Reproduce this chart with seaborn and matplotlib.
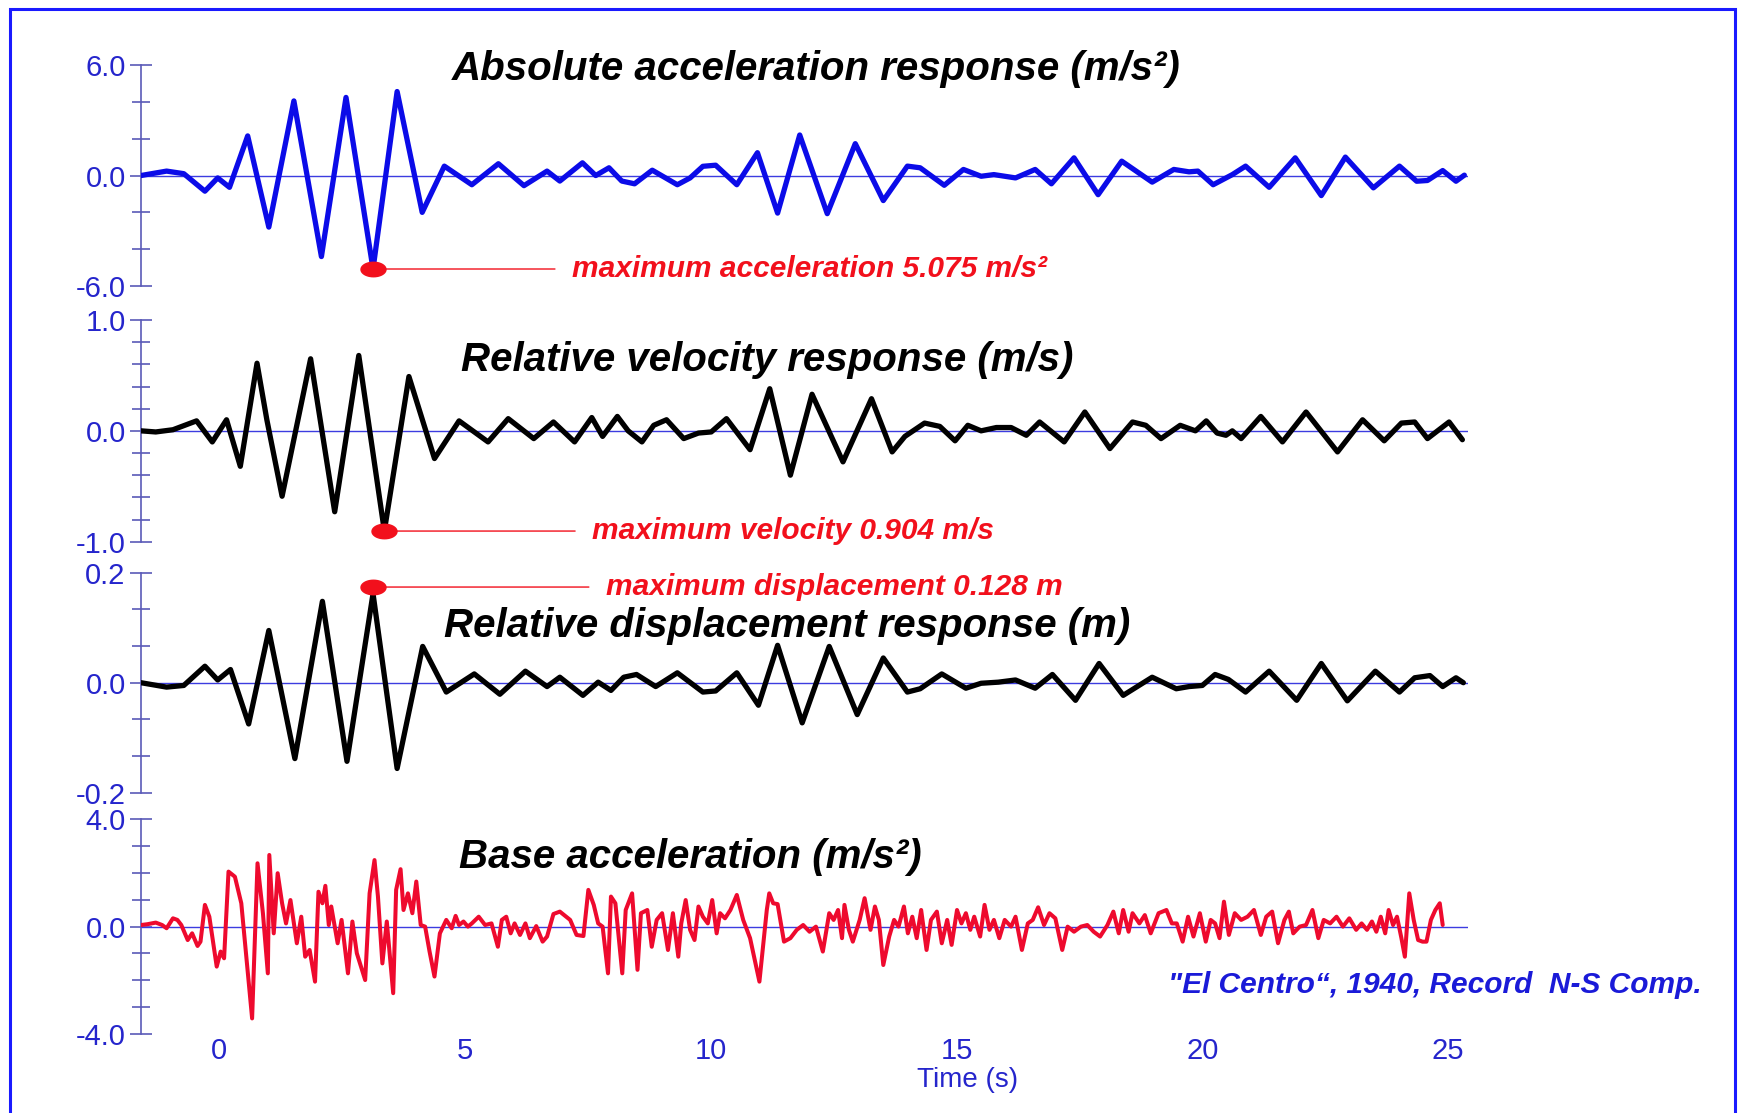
import numpy as np
import matplotlib
matplotlib.use("Agg")
import matplotlib.pyplot as plt
import seaborn as sns
from matplotlib.path import Path
from matplotlib.patches import Rectangle
from matplotlib.ticker import FixedLocator

# ---- values (time in s) ----
# absolute acceleration response (m/s2)
acc_t = [-1.59, -1.07, -0.72, -0.29, -0.03, 0.21, 0.58, 1.01, 1.52, 2.08,
         2.58, 3.13, 3.62, 4.13, 4.58, 5.14, 5.68, 6.20, 6.67, 6.93,
         7.39, 7.66, 7.93, 8.19, 8.45, 8.81, 9.32, 9.58, 9.84, 10.10,
         10.53, 10.95, 11.36, 11.81, 12.37, 12.94, 13.51, 14.00, 14.26, 14.75,
         15.14, 15.50, 15.76, 16.20, 16.60, 16.93, 17.39, 17.88, 18.36, 18.98,
         19.42, 19.73, 19.91, 20.22, 20.61, 20.88, 21.36, 21.89, 22.42, 22.91,
         23.48, 24.01, 24.36, 24.58, 24.89, 25.16, 25.33]
acc_v = [0.0, 0.24, 0.10, -0.85, -0.13, -0.64, 2.15, -2.80, 4.05, -4.40,
         4.24, -5.075, 4.56, -2.00, 0.51, -0.50, 0.64, -0.55, 0.24, -0.30,
         0.69, 0.0, 0.42, -0.30, -0.45, 0.29, -0.50, -0.13, 0.50, 0.56,
         -0.50, 1.24, -2.04, 2.20, -2.07, 1.73, -1.36, 0.51, 0.42, -0.53,
         0.33, -0.04, 0.05, -0.13, 0.33, -0.45, 0.96, -1.04, 0.78, -0.36,
         0.33, 0.20, 0.24, -0.50, 0.05, 0.51, -0.64, 0.96, -1.09, 1.00,
         -0.67, 0.51, -0.31, -0.27, 0.27, -0.31, 0.02]

# relative velocity response (m/s)
vel_t = [-1.59, -1.29, -0.94, -0.46, -0.14, 0.15, 0.43, 0.77, 0.97, 1.28,
         1.86, 2.35, 2.84, 3.36, 3.86, 4.38, 4.88, 5.47, 5.88, 6.40,
         6.80, 7.23, 7.58, 7.80, 8.10, 8.32, 8.60, 8.84, 9.10, 9.45,
         9.75, 10.01, 10.32, 10.80, 11.20, 11.62, 12.06, 12.69, 13.27, 13.69,
         13.95, 14.35, 14.66, 14.97, 15.23, 15.50, 15.81, 16.11, 16.42, 16.69,
         17.19, 17.61, 18.12, 18.58, 18.85, 19.16, 19.55, 19.86, 20.08, 20.30,
         20.48, 20.61, 20.79, 21.19, 21.63, 22.11, 22.75, 23.26, 23.70, 24.05,
         24.32, 24.58, 25.02, 25.29]
vel_v = [0.0, -0.01, 0.01, 0.09, -0.10, 0.10, -0.32, 0.61, 0.10, -0.59,
         0.65, -0.73, 0.68, -0.904, 0.49, -0.25, 0.09, -0.10, 0.11, -0.07,
         0.08, -0.10, 0.12, -0.05, 0.13, 0.0, -0.10, 0.05, 0.10, -0.07,
         -0.02, -0.01, 0.11, -0.17, 0.38, -0.40, 0.33, -0.28, 0.29, -0.19,
         -0.05, 0.07, 0.04, -0.09, 0.05, 0.0, 0.03, 0.03, -0.04, 0.08,
         -0.10, 0.17, -0.16, 0.08, 0.05, -0.07, 0.05, 0.0, 0.09, -0.02,
         -0.04, 0.0, -0.07, 0.13, -0.10, 0.17, -0.19, 0.10, -0.09, 0.07,
         0.08, -0.07, 0.08, -0.08]

# relative displacement response (m)
disp_t = [-1.59, -1.07, -0.72, -0.29, -0.03, 0.23, 0.60, 1.01, 1.54, 2.10,
          2.60, 3.13, 3.62, 4.14, 4.62, 5.19, 5.71, 6.23, 6.67, 6.93,
          7.40, 7.71, 7.97, 8.23, 8.49, 8.88, 9.32, 9.84, 10.10, 10.53,
          10.97, 11.36, 11.86, 12.41, 12.98, 13.51, 14.00, 14.26, 14.70, 15.19,
          15.50, 15.85, 16.20, 16.60, 16.95, 17.42, 17.90, 18.39, 18.98, 19.47,
          19.73, 20.00, 20.26, 20.53, 20.88, 21.36, 21.92, 22.42, 22.95, 23.52,
          24.01, 24.32, 24.63, 24.89, 25.16, 25.31]
disp_v = [0.0, -0.008, -0.005, 0.030, 0.005, 0.024, -0.075, 0.095, -0.138, 0.148,
          -0.143, 0.162, -0.156, 0.066, -0.017, 0.016, -0.021, 0.021, -0.007, 0.010,
          -0.023, 0.001, -0.014, 0.010, 0.015, -0.007, 0.018, -0.017, -0.015, 0.018,
          -0.041, 0.068, -0.073, 0.066, -0.058, 0.045, -0.017, -0.011, 0.016, -0.010,
          -0.001, 0.001, 0.005, -0.010, 0.015, -0.032, 0.035, -0.023, 0.010, -0.011,
          -0.007, -0.005, 0.015, 0.006, -0.017, 0.021, -0.032, 0.035, -0.033, 0.021,
          -0.017, 0.009, 0.013, -0.007, 0.009, 0.0]

# base acceleration, El Centro N-S (m/s2)
base_t = [-1.59, -1.46, -1.29, -1.16, -1.07, -0.94, -0.85, -0.77, -0.64, -0.55,
          -0.44, -0.38, -0.29, -0.20, -0.05, 0.03, 0.10, 0.19, 0.32, 0.45,
          0.67, 0.78, 0.89, 0.99, 1.02, 1.11, 1.19, 1.28, 1.36, 1.45,
          1.58, 1.67, 1.75, 1.84, 1.95, 2.02, 2.10, 2.16, 2.23, 2.28,
          2.41, 2.49, 2.62, 2.71, 2.80, 2.97, 3.06, 3.16, 3.23, 3.32,
          3.41, 3.54, 3.60, 3.69, 3.75, 3.84, 3.93, 4.01, 4.10, 4.19,
          4.28, 4.38, 4.49, 4.62, 4.73, 4.81, 4.88, 4.97, 5.06, 5.14,
          5.28, 5.41, 5.54, 5.67, 5.75, 5.84, 5.93, 6.01, 6.12, 6.23,
          6.32, 6.45, 6.58, 6.67, 6.80, 6.93, 7.06, 7.14, 7.27, 7.41,
          7.51, 7.62, 7.71, 7.80, 7.91, 7.97, 8.06, 8.20, 8.27, 8.40,
          8.51, 8.58, 8.71, 8.80, 8.90, 9.01, 9.13, 9.23, 9.34, 9.40,
          9.49, 9.58, 9.67, 9.75, 9.84, 9.94, 10.03, 10.12, 10.19, 10.29,
          10.40, 10.53, 10.66, 10.80, 10.88, 10.99, 11.14, 11.19, 11.27, 11.36,
          11.49, 11.62,
          11.75, 11.88, 12.01, 12.14, 12.28, 12.41, 12.50, 12.59, 12.67, 12.72,
          12.81, 12.89, 13.03, 13.13, 13.25, 13.34, 13.42, 13.51, 13.63, 13.73,
          13.82, 13.93, 14.01, 14.10, 14.19, 14.28, 14.39, 14.48, 14.60, 14.70,
          14.81, 14.90, 15.01, 15.10, 15.19, 15.28, 15.36, 15.48, 15.57, 15.67,
          15.76, 15.87, 15.98, 16.11, 16.20, 16.33, 16.45, 16.55, 16.66, 16.78,
          16.89, 17.01, 17.15, 17.26, 17.39, 17.53, 17.66, 17.79, 17.92, 18.07,
          18.19, 18.30, 18.39, 18.50, 18.58, 18.72, 18.83, 18.95, 19.11, 19.27,
          19.38, 19.48, 19.60, 19.71, 19.82, 19.95, 20.07, 20.17, 20.26, 20.35,
          20.44, 20.54, 20.66, 20.79, 20.92, 21.05, 21.19, 21.30, 21.42, 21.54,
          21.67, 21.76, 21.85, 21.98, 22.11, 22.24, 22.36, 22.47, 22.60, 22.73,
          22.86, 22.99, 23.13, 23.24, 23.35, 23.45, 23.54, 23.63, 23.72, 23.79,
          23.88, 23.96, 24.05, 24.12, 24.21, 24.30, 24.39, 24.48, 24.56, 24.65,
          24.74, 24.83, 24.89]
base_v = [0.06, 0.09, 0.15, 0.06, -0.06, 0.31, 0.25, 0.06, -0.50, -0.25,
          -0.72, -0.56, 0.81, 0.37, -1.49, -0.93, -1.18, 2.05, 1.86, 0.87,
          -3.42, 2.36, 0.50, -1.74, 2.67, -0.25, 1.99, 0.87, 0.12, 0.99,
          -0.62, 0.37, -1.12, -0.87, -2.05, 1.30, 0.87, 1.52, 0.06, 0.75,
          -0.62, 0.25, -1.74, 0.19, -0.99, -1.99, 1.24, 2.48, 1.12, -1.37,
          0.19, -2.48, 1.37, 2.14, 0.62, 1.24, 0.50, 1.68, 0.06, 0.0,
          -0.93, -1.86, -0.25, 0.25, -0.06, 0.40, 0.06, 0.19, 0.0, 0.12,
          0.37, 0.06, 0.12, -0.75, 0.25, 0.37, -0.25, 0.12, -0.31, 0.12,
          -0.43, 0.02, -0.56, -0.37, 0.47, 0.56, 0.37, 0.25, -0.31, -0.35,
          1.37, 0.81, 0.12, 0.0, -1.74, 1.12, 0.87, -1.74, 0.62, 1.24,
          -1.61, 0.50, 0.62, -0.75, 0.25, 0.50, -0.87, 0.50, -1.12, 0.12,
          0.99, -0.12, -0.50, 0.75, 0.37, 0.12, 0.99, -0.25, 0.50, 0.31,
          0.62, 1.18, 0.25, -0.43, -1.12, -2.05, 0.62, 1.24, 0.87, 0.84,
          -0.56, -0.43,
          -0.12, 0.06, -0.19, 0.0, -0.93, 0.50, 0.25, 0.62, -0.43, 0.81,
          -0.12, -0.56, 0.25, 1.06, -0.12, 0.75, 0.25, -1.43, -0.37, 0.25,
          0.0, 0.75, -0.25, 0.37, -0.43, 0.62, -0.87, 0.25, 0.56, -0.62,
          0.25, -0.68, 0.62, 0.12, 0.50, -0.12, 0.37, -0.37, 0.81, -0.12,
          0.25, -0.43, 0.25, 0.0, 0.37, -0.87, 0.12, 0.25, 0.72, 0.06,
          0.50, 0.31, -0.87, 0.0, -0.19, 0.0, 0.06, -0.19, -0.37, 0.06,
          0.56, -0.25, 0.62, -0.19, 0.50, 0.12, 0.43, -0.25, 0.50, 0.62,
          0.12, 0.12, -0.56, 0.37, -0.37, 0.50, -0.56, 0.25, 0.12, -0.43,
          0.93, -0.31, 0.50, 0.25, 0.37, 0.62, -0.31, 0.37, 0.56, -0.62,
          0.25, 0.56, -0.25, 0.0, 0.06, 0.62, -0.43, 0.25, 0.12, 0.37,
          0.0, 0.31, -0.12, 0.12, -0.12, 0.19, -0.19, 0.37, -0.25, 0.62,
          0.06, 0.37, -0.43, -1.12, 1.24, 0.25, -0.50, -0.56, -0.56, 0.25,
          0.62, 0.87, 0.06]

titles = ["Absolute acceleration response (m/s²)",
          "Relative velocity response (m/s)",
          "Relative displacement response (m)",
          "Base acceleration (m/s²)"]
max_labels = ["maximum acceleration 5.075 m/s²",
              "maximum velocity 0.904 m/s",
              "maximum displacement 0.128 m"]
time_ticks = [0, 5, 10, 15, 20, 25]
caption = "\"El Centro“, 1940, Record  N-S Comp."

# ---- style ----
sns.set_style("white")
plt.rcParams["font.family"] = ["Liberation Sans", "DejaVu Sans"]

TXT_BLUE = "#2525cc"
AXIS_C = "#5a5ab8"
ZERO_C = "#3c3ce0"
RED = "#f2101c"

fig = plt.figure(figsize=(17.43, 11.13), dpi=100)

# panel settings: series, colour, line width, y-limit, minor step, axes box
panels = [
    (acc_t, acc_v, "#0b0be8", 3.8, 6.0, 2.0, [0.0809, 0.7430, 0.7612, 0.1986]),
    (vel_t, vel_v, "black", 3.8, 1.0, 0.2, [0.0809, 0.5133, 0.7612, 0.1992]),
    (disp_t, disp_v, "black", 3.8, 0.2, 0.2 / 3, [0.0809, 0.2878, 0.7612, 0.1976]),
    (base_t, base_v, "#ee0a2e", 2.9, 4.0, 1.0, [0.0809, 0.0710, 0.7612, 0.1929]),
]

# ellipse shaped dot for the peaks
th = np.linspace(0, 2 * np.pi, 41)
dot = Path(np.column_stack([np.cos(th), 0.58 * np.sin(th)]), closed=True)

axes = []
for t, v, col, lw, lim, step, box in panels:
    ax = fig.add_axes(box)
    ax.axhline(0, color=ZERO_C, lw=1.0, zorder=1)
    sns.lineplot(x=t, y=v, ax=ax, color=col, lw=lw, estimator=None,
                 sort=False, zorder=3, solid_joinstyle="round",
                 solid_capstyle="round")
    ax.set_xlim(-1.59, 25.4)
    ax.set_ylim(-lim, lim)
    for s in ["top", "right", "bottom"]:
        ax.spines[s].set_visible(False)
    ax.spines["left"].set_color(AXIS_C)
    ax.spines["left"].set_linewidth(1.2)
    ax.yaxis.set_major_locator(FixedLocator([-lim, 0, lim]))
    ax.set_yticklabels([f"{-lim:.1f}", "0.0", f"{lim:.1f}"])
    ax.yaxis.set_minor_locator(FixedLocator(np.arange(-lim, lim + step / 2, step)))
    ax.tick_params(axis="y", which="major", direction="inout", length=16,
                   width=1.2, color=AXIS_C, labelcolor=TXT_BLUE, labelsize=21,
                   pad=3, left=True)
    ax.tick_params(axis="y", which="minor", direction="inout", length=13,
                   width=1.2, color=AXIS_C, left=True)
    ax.set_xlabel("")
    ax.set_ylabel("")
    ax.patch.set_alpha(0)
    axes.append(ax)

for ax in axes[:3]:
    ax.set_xticks([])

ax4 = axes[3]
ax4.set_xticks(time_ticks)
ax4.set_xticklabels([str(x) for x in time_ticks])
ax4.tick_params(axis="x", length=0, labelsize=21, labelcolor=TXT_BLUE, pad=2)

# peak markers with annotation
peaks = [
    (axes[0], acc_t, acc_v, int(np.argmin(acc_v)), 7.18, 0.0),
    (axes[1], vel_t, vel_v, int(np.argmin(vel_v)), 7.59, 0.0),
    (axes[2], disp_t, disp_v, int(np.argmax(disp_v)), 7.87, 0.012),
]
for (ax, t, v, i, tx, dy), lab in zip(peaks, max_labels):
    ax.plot([t[i]], [v[i] + dy], marker=dot, ms=18, color=RED, ls="none",
            zorder=5, clip_on=False)
    ax.annotate(lab, xy=(t[i], v[i] + dy), xytext=(tx, v[i] + dy),
                ha="left", va="center", color=RED, fontsize=21.5,
                fontweight="bold", fontstyle="italic",
                arrowprops=dict(arrowstyle="-", color=RED, lw=1.0,
                                shrinkA=10, shrinkB=8),
                annotation_clip=False, zorder=4)

# panel titles
title_pos = [(0.2593, 0.938), (0.2645, 0.6765), (0.2547, 0.4376), (0.2633, 0.230)]
for (x, y), s in zip(title_pos, titles):
    fig.text(x, y, s, ha="left", va="center", fontsize=29,
             fontweight="bold", fontstyle="italic", color="black")

fig.text(0.5554, 0.030, "Time (s)", ha="center", va="center",
         fontsize=20, color=TXT_BLUE)
fig.text(0.9765, 0.115, caption, ha="right", va="center", fontsize=21.5,
         fontweight="bold", fontstyle="italic", color="#1a1ad8")

# blue frame around the whole picture
fig.patches.append(Rectangle((0.0057, -0.01), 0.9897, 1.0019,
                             transform=fig.transFigure, fill=False,
                             edgecolor="#1a1aff", lw=2.2))

fig.savefig("out.png", dpi=100)
